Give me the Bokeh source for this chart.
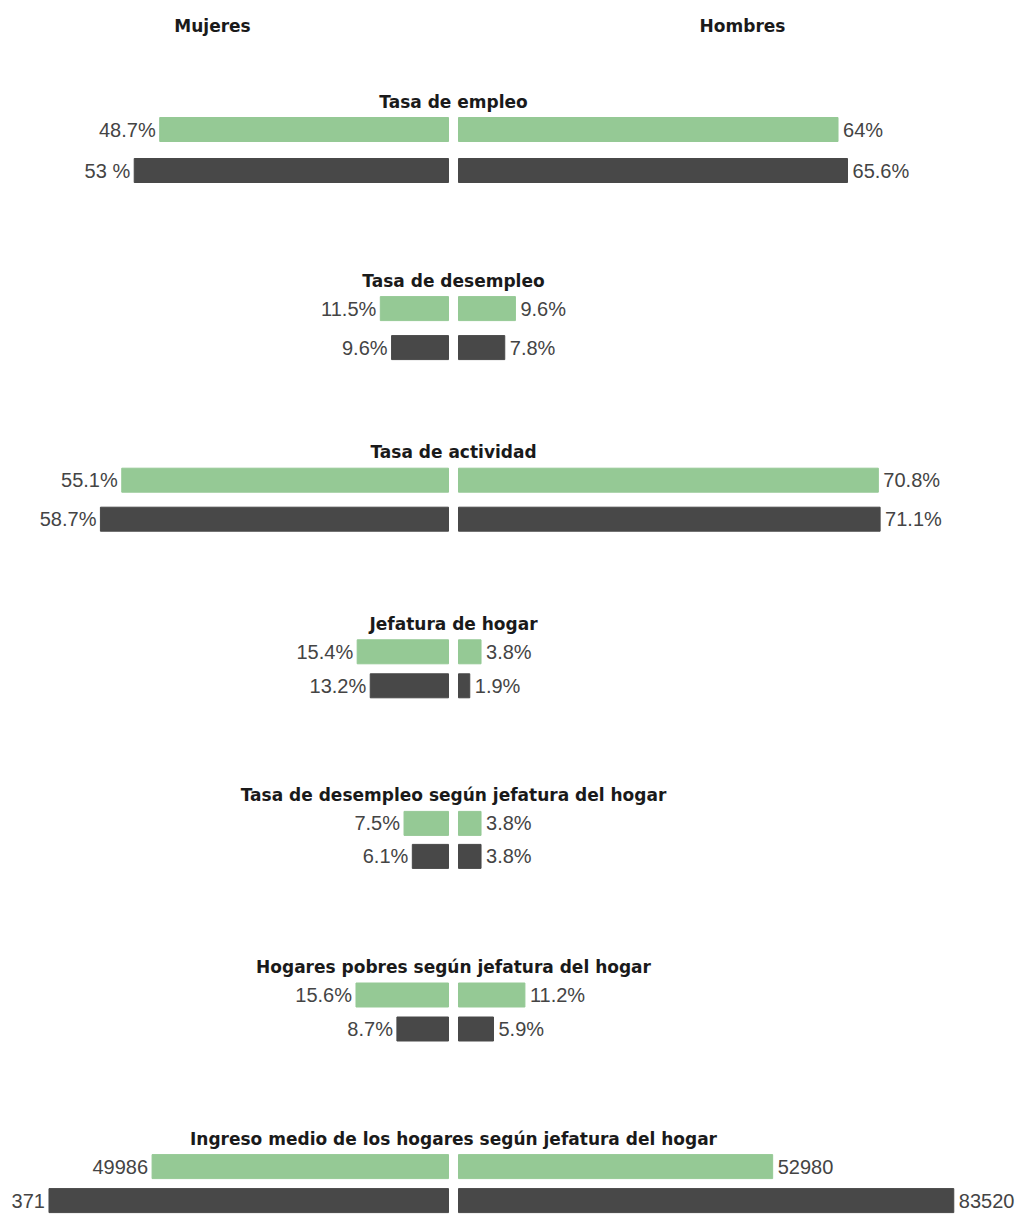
from bokeh.plotting import figure
from bokeh.models import Range1d, ColumnDataSource
from bokeh.core.properties import value
from bokeh.embed import file_html
from bokeh.resources import INLINE

# ---------------- data ----------------
groups = [
    "Tasa de empleo",
    "Tasa de desempleo",
    "Tasa de actividad",
    "Jefatura de hogar",
    "Tasa de desempleo según jefatura del hogar",
    "Hogares pobres según jefatura del hogar",
    "Ingreso medio de los hogares según jefatura del hogar",
]
# first (green) and second (dark) row of every group
mujeres_a = [48.7, 11.5, 55.1, 15.4, 7.5, 15.6, 49986]
mujeres_b = [53.0, 9.6, 58.7, 13.2, 6.1, 8.7, 67371]
hombres_a = [64.0, 9.6, 70.8, 3.8, 3.8, 11.2, 52980]
hombres_b = [65.6, 7.8, 71.1, 1.9, 3.8, 5.9, 83520]

lab_m_a = ["48.7%", "11.5%", "55.1%", "15.4%", "7.5%", "15.6%", "49986"]
lab_m_b = ["53 %", "9.6%", "58.7%", "13.2%", "6.1%", "8.7%", "67371"]
lab_h_a = ["64%", "9.6%", "70.8%", "3.8%", "3.8%", "11.2%", "52980"]
lab_h_b = ["65.6%", "7.8%", "71.1%", "1.9%", "3.8%", "5.9%", "83520"]

unit = [1, 1, 1, 1, 1, 1, 0.001]   # income drawn in thousands

headers = ["Mujeres", "Hombres"]

# ---------------- layout / style ----------------
W, H = 1019, 1214
BORDER_L = 11
FRAME_W = W - BORDER_L
PX = 5.93                 # pixels per unit
CENTER_PX = 453 - BORDER_L  # centre of the chart, from frame left
GAP = 5 / PX              # half gap between the two sides
FIRST_TITLE = 101
EXTRA_FIRST = 7.5
STEP = 171.6
GREEN_OFF = 28
ROW_GAP = [41, 39, 39, 34, 33, 34, 34]
BAR_H = 24
HEADER_Y = 25
HEADER_X = [(212 - 453) / PX, (742 - 453) / PX]

GREEN = "#95c995"
DARK = "#484848"
LABEL_C = "#444444"
TITLE_C = "#1a1a1a"

p = figure(
    width=W, height=H,
    x_range=Range1d(-CENTER_PX / PX, (FRAME_W - CENTER_PX) / PX),
    y_range=Range1d(H, 0),
    output_backend="svg", toolbar_location=None,
    min_border_left=BORDER_L, min_border_right=0,
    min_border_top=0, min_border_bottom=0,
    x_axis_location=None, y_axis_location=None,
)
p.grid.visible = False
p.outline_line_color = None
p.background_fill_color = "white"
p.border_fill_color = "white"

title_y = [FIRST_TITLE + i * STEP + (EXTRA_FIRST if i > 0 else 0)
           for i in range(len(groups))]

rows = []
for i in range(len(groups)):
    ya = title_y[i] + GREEN_OFF
    yb = ya + ROW_GAP[i]
    for y, mv, hv, ml, hl, col in [
        (ya, mujeres_a[i], hombres_a[i], lab_m_a[i], lab_h_a[i], GREEN),
        (yb, mujeres_b[i], hombres_b[i], lab_m_b[i], lab_h_b[i], DARK),
    ]:
        rows.append(dict(y=y, ml=-GAP - mv * unit[i], mr=-GAP,
                         hl=GAP, hr=GAP + hv * unit[i],
                         mlab=ml, hlab=hl, color=col))

src = ColumnDataSource({k: [r[k] for r in rows] for k in rows[0]})

p.hbar(y="y", left="ml", right="mr", height=BAR_H, color="color", source=src)
p.hbar(y="y", left="hl", right="hr", height=BAR_H, color="color", source=src)

p.text(x="ml", y="y", text="mlab", source=src, text_align="right",
       text_baseline="middle", x_offset=-4, text_font=value("Liberation Sans"),
       text_font_size="20px", text_color=LABEL_C)
p.text(x="hr", y="y", text="hlab", source=src, text_align="left",
       text_baseline="middle", x_offset=5, text_font=value("Liberation Sans"),
       text_font_size="20px", text_color=LABEL_C)

tsrc = ColumnDataSource(dict(x=[0] * len(groups), y=title_y, t=groups))
p.text(x="x", y="y", text="t", source=tsrc, text_align="center",
       text_baseline="middle", text_font=value("DejaVu Sans"),
       text_font_style="bold", text_font_size="17px", text_color=TITLE_C)

hsrc = ColumnDataSource(dict(x=HEADER_X, y=[HEADER_Y] * 2, t=headers))
p.text(x="x", y="y", text="t", source=hsrc, text_align="center",
       text_baseline="middle", text_font=value("DejaVu Sans"),
       text_font_style="bold", text_font_size="17px", text_color=TITLE_C)

open("out.html", "w").write(file_html(p, INLINE))
